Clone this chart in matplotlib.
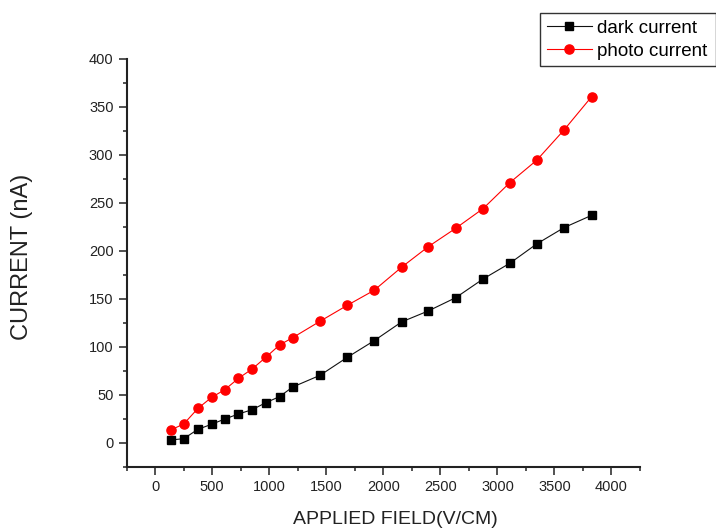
import matplotlib
matplotlib.use("Agg")
import matplotlib.pyplot as plt
from matplotlib.ticker import MultipleLocator

plt.rcParams['font.family'] = ['Liberation Sans', 'DejaVu Sans']

field = [135, 250, 375, 495, 610, 730, 850, 970, 1090, 1205, 1445,
         1685, 1920, 2160, 2395, 2635, 2875, 3110, 3345, 3585, 3825]
dark_current = [2.8, 4.2, 14.0, 19.2, 24.7, 29.9, 34.4, 41.7, 48.0, 58.0, 70.2,
                89.0, 106.3, 125.8, 137.3, 151.1, 170.6, 187.0, 207.1, 224.1, 236.8]
photo_current = [13.2, 19.5, 35.8, 47.3, 55.2, 67.1, 76.8, 89.0, 101.8, 109.4, 126.5,
                 143.2, 158.8, 182.8, 204.3, 223.4, 243.9, 271.0, 294.3, 325.9, 360.3]

x_label = "APPLIED FIELD(V/CM)"
y_label = "CURRENT (nA)"
series_names = ["dark current", "photo current"]

W, H = 716, 529
fig = plt.figure(figsize=(W / 100, H / 100), dpi=100)
ax = fig.add_axes([126.7 / W, 1 - 466.7 / H, (640 - 126.7) / W, (466.7 - 58.7) / H])

ax.plot(field, dark_current, color='#111111', lw=0.8, marker='s', markersize=6.3,
        markerfacecolor='black', markeredgecolor='black', label=series_names[0])
ax.plot(field, photo_current, color='red', lw=0.8, marker='o', markersize=6.6,
        markerfacecolor='red', markeredgecolor='red', label=series_names[1])

ax.set_xlim(-250, 4250)
ax.set_ylim(-25, 400)
ax.xaxis.set_major_locator(MultipleLocator(500))
ax.xaxis.set_minor_locator(MultipleLocator(250))
ax.yaxis.set_major_locator(MultipleLocator(50))
ax.yaxis.set_minor_locator(MultipleLocator(25))

for s in ['top', 'right']:
    ax.spines[s].set_visible(False)
for s in ['left', 'bottom']:
    ax.spines[s].set_linewidth(1.5)
    ax.spines[s].set_color('#222222')

ax.tick_params(which='major', direction='out', length=6, width=1.1, labelsize=10.5,
               pad=3.5, colors='#222222')
ax.tick_params(which='minor', direction='out', length=3, width=1.1, colors='#222222')
ax.set_xticks([v for v in range(0, 4001, 500)])

ax.set_xlabel(x_label, fontsize=14, color='#222222')
ax.set_ylabel(y_label, fontsize=17, color='#222222')
ax.xaxis.set_label_coords((395 - 126.7) / (640 - 126.7), -(519.7 - 466.7) / (466.7 - 58.7))
ax.xaxis.label.set_va('center')
ax.yaxis.set_label_coords(-(126.7 - 22.5) / (640 - 126.7), (466.7 - 256.5) / (466.7 - 58.7))
ax.yaxis.label.set_va('center')

leg = fig.legend(loc='upper left',
                 bbox_to_anchor=(540 / W, 1 - 66 / H, 175.5 / W, 52.7 / H),
                 mode='expand',
                 fontsize=13.5, frameon=True, fancybox=False, edgecolor='black',
                 handlelength=2.4, handletextpad=0.3, labelspacing=0.3,
                 borderpad=0.35, borderaxespad=0)
leg.get_frame().set_linewidth(1.0)

fig.savefig("out.png", dpi=100)
